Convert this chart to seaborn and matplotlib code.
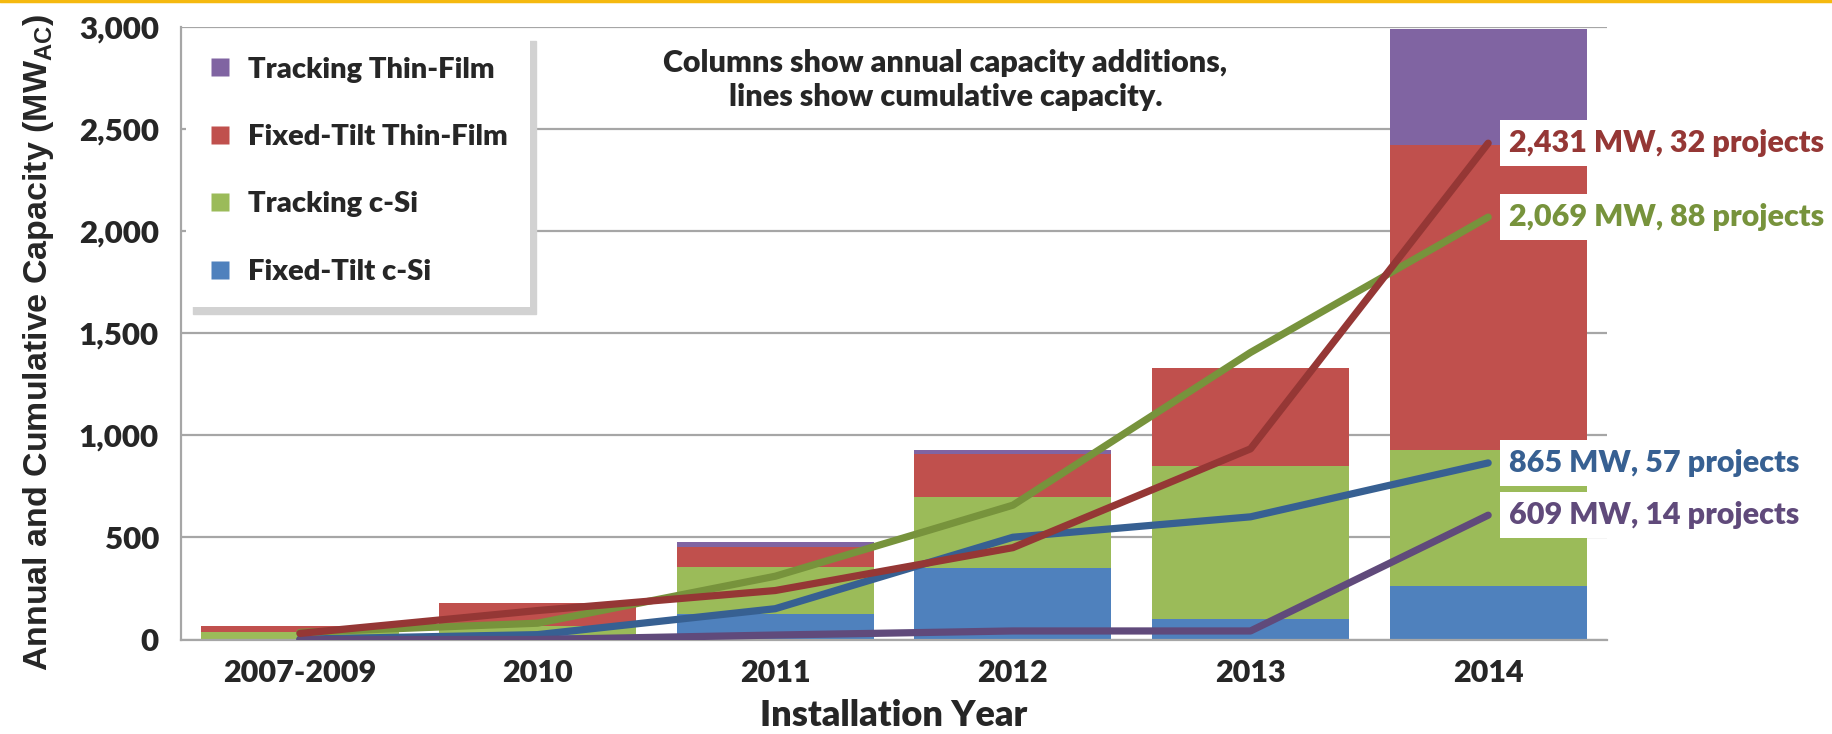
import numpy as np
import pandas as pd
import matplotlib
matplotlib.use("Agg")
import matplotlib.pyplot as plt
from matplotlib.lines import Line2D
import seaborn as sns

# Installation periods
years = ["2007-2009", "2010", "2011", "2012", "2013", "2014"]

# Annual capacity additions (MW-AC) by module / mounting type
fixed_csi = [2, 22, 127, 350, 100, 264]
tracking_csi = [35, 45, 230, 348, 748, 663]
fixed_tf = [30, 112, 98, 210, 484, 1497]
tracking_tf = [0, 0, 22, 20, 0, 567]

# Project counts at the end of 2014, same order as the series below
projects_2014 = [57, 88, 32, 14]

series_names = ["Fixed-Tilt c-Si", "Tracking c-Si", "Fixed-Tilt Thin-Film", "Tracking Thin-Film"]
bar_colors = ["#4F81BD", "#9BBB59", "#C0504D", "#8064A2"]
line_colors = ["#376092", "#77933C", "#953735", "#604A7B"]

sns.set_style("white")
plt.rcParams["font.family"] = ["Lato", "DejaVu Sans"]
plt.rcParams["font.weight"] = "heavy"
plt.rcParams["mathtext.fontset"] = "custom"
plt.rcParams["mathtext.bf"] = "Liberation Sans:bold"
plt.rcParams["mathtext.rm"] = "Liberation Sans:bold"

W = "heavy"

fig = plt.figure(figsize=(18.33, 7.34), dpi=100)
ax = fig.add_axes([0.0988, 0.1287, 0.7779, 0.8345])

grid_c = "#A6A6A6"
ax.set_axisbelow(True)
ax.yaxis.grid(True, color=grid_c, linewidth=1.6)

annual = [fixed_csi, tracking_csi, fixed_tf, tracking_tf]
tops = np.cumsum(np.array(annual, dtype=float), axis=0)

# Stacked columns: draw tallest stack first, lower segments on top
df = pd.DataFrame({"year": years})
for i in range(len(annual) - 1, -1, -1):
    df["top"] = tops[i]
    sns.barplot(data=df, x="year", y="top", order=years, color=bar_colors[i],
                saturation=1, width=0.83, linewidth=0, ax=ax, zorder=2)

# Cumulative capacity lines
pos = np.arange(len(years))
cumulative = [np.cumsum(s) for s in annual]
for i in [0, 1, 3, 2]:
    sns.lineplot(x=pos, y=cumulative[i], color=line_colors[i], linewidth=5.2,
                 ax=ax, zorder=4, solid_capstyle="round", solid_joinstyle="round")

for i in [2, 1, 0, 3]:
    total = cumulative[i][-1]
    ax.annotate(f"{total:,.0f} MW, {projects_2014[i]} projects",
                xy=(pos[-1], total), xytext=(15, 0), textcoords="offset points",
                ha="left", va="center", fontsize=22, fontweight=W,
                color=line_colors[i], zorder=6, annotation_clip=False,
                bbox=dict(boxstyle="square,pad=0.3", fc="white", ec="none"))

ax.set_xlim(-0.5, len(years) - 0.5)
ax.set_ylim(0, 3000)
ax.set_yticks(np.arange(0, 3001, 500))
ax.yaxis.set_major_formatter(matplotlib.ticker.StrMethodFormatter("{x:,.0f}"))
ax.set_xticks(pos)
ax.set_xticklabels(years)
ax.set_xticks(np.arange(-0.5, len(years), 1.0), minor=True)
ax.tick_params(axis="x", which="major", length=0, pad=14, labelsize=22)
ax.tick_params(axis="x", which="minor", length=11, width=1.4, color=grid_c, direction="out")
ax.tick_params(axis="y", which="major", length=8, width=1.4, color=grid_c, direction="out",
               pad=8, labelsize=22.5)
for lbl in ax.get_xticklabels() + ax.get_yticklabels():
    lbl.set_fontweight(W)

for side in ["top", "right"]:
    ax.spines[side].set_visible(False)
for side in ["left", "bottom"]:
    ax.spines[side].set_color(grid_c)
    ax.spines[side].set_linewidth(1.6)

ax.set_xlabel("Installation Year", fontsize=26, fontweight=W, labelpad=9)
ax.set_ylabel(r"Annual and Cumulative Capacity (MW$_{\mathbf{AC}}$)",
              fontsize=24.5, fontweight="bold", family="Liberation Sans")
ax.yaxis.set_label_coords(-0.088, 0.486)

ax.text(0.536, 0.913, "Columns show annual capacity additions,\nlines show cumulative capacity.",
        transform=ax.transAxes, ha="center", va="center", fontsize=22,
        fontweight=W, linespacing=1.25, zorder=7)

handles = [Line2D([], [], marker="s", linestyle="none", markersize=13,
                  markerfacecolor=bar_colors[i], markeredgecolor="none")
           for i in [3, 2, 1, 0]]
labels = [series_names[i] for i in [3, 2, 1, 0]]
leg = ax.legend(handles, labels, loc="upper left", bbox_to_anchor=(0.1015, 0.953),
                bbox_transform=fig.transFigure, borderaxespad=0, frameon=True,
                prop={"size": 21, "weight": W}, labelspacing=1.42, handlelength=0.8,
                handletextpad=0.55, borderpad=0.76, fancybox=False,
                shadow={"color": "#d2d2d2", "alpha": 1, "ox": 5, "oy": -5})
leg.get_frame().set_edgecolor("none")
leg.get_frame().set_facecolor("white")
leg.get_frame().set_alpha(1)
leg.set_zorder(8)

# thin gold rule along the top edge
fig.add_artist(Line2D([0, 1], [0.998, 0.998], transform=fig.transFigure,
                      color="#F5B90F", linewidth=2.5))

fig.savefig("out.png", dpi=100)
